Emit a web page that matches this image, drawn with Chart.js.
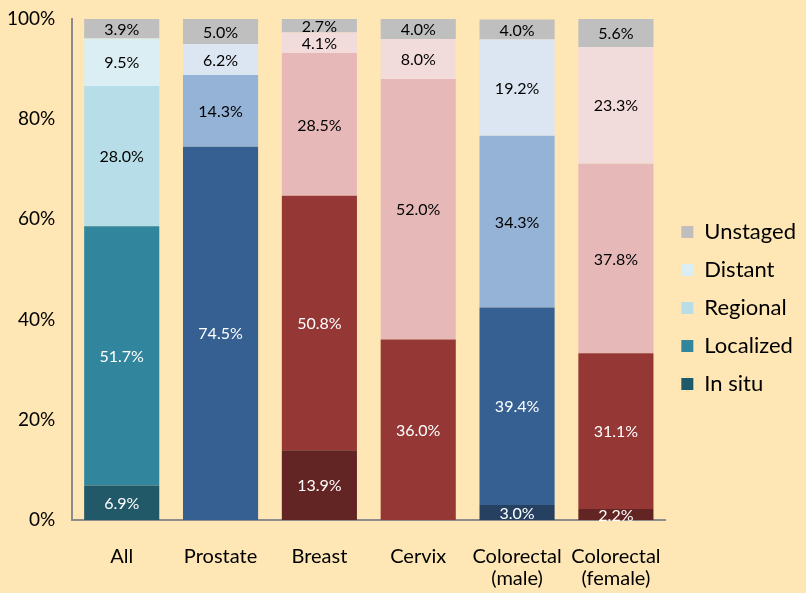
<!DOCTYPE html>
<html>
<head>
<meta charset="utf-8">
<script src="https://cdn.jsdelivr.net/npm/chart.js@4.4.0/dist/chart.umd.min.js"></script>
<style>
  html, body { margin: 0; padding: 0; background: #fee6b5; }
  #wrap { width: 806px; height: 593px; }
</style>
</head>
<body>
<div id="wrap"><canvas id="stageChart" width="806" height="593"></canvas></div>
<script>
// categories and stages
const categories = [['All'], ['Prostate'], ['Breast'], ['Cervix'], ['Colorectal', '(male)'], ['Colorectal', '(female)']];
const stages = ['In situ', 'Localized', 'Regional', 'Distant', 'Unstaged'];

// percent of cases by stage, one array per stage
const inSitu    = [6.9,  0,    13.9, 0,    3.0,  2.2];
const localized = [51.7, 74.5, 50.8, 36.0, 39.4, 31.1];
const regional  = [28.0, 14.3, 28.5, 52.0, 34.3, 37.8];
const distant   = [9.5,  6.2,  4.1,  8.0,  19.2, 23.3];
const unstaged  = [3.9,  5.0,  2.7,  4.0,  4.0,  5.6];

const yTicks = [0, 20, 40, 60, 80, 100];

// colour families: teal for All, blue for male sites, red for female sites
const teal = ['#215968', '#31859c', '#b7dee8', '#daeef3', '#bfbfbf'];
const blue = ['#254061', '#366092', '#95b3d7', '#dce6f2', '#bfbfbf'];
const red  = ['#632523', '#953735', '#e6b9b8', '#f2dcdb', '#bfbfbf'];
const familyOf = [teal, blue, red, red, blue, red];

const FONT = 'Lato, "Open Sans", sans-serif';

const seriesValues = [inSitu, localized, regional, distant, unstaged];

const datasets = stages.map((name, s) => ({
    label: name,
    data: seriesValues[s],
    backgroundColor: familyOf.map(f => f[s]),
    borderWidth: 0,
    barPercentage: 0.76,
    categoryPercentage: 1.0
}));

// draws the percentage inside each segment
const segmentLabels = {
    id: 'segmentLabels',
    afterDatasetsDraw(chart) {
        const ctx = chart.ctx;
        ctx.save();
        ctx.font = '16px ' + FONT;
        ctx.textAlign = 'center';
        ctx.textBaseline = 'middle';
        chart.data.datasets.forEach((ds, s) => {
            const meta = chart.getDatasetMeta(s);
            meta.data.forEach((bar, i) => {
                const v = ds.data[i];
                if (!v) return;
                ctx.fillStyle = s < 2 ? '#ffffff' : '#000000';
                ctx.fillText(v.toFixed(1) + '%', bar.x, (bar.y + bar.base) / 2 + 1);
            });
        });
        ctx.restore();
    }
};

new Chart(document.getElementById('stageChart').getContext('2d'), {
    type: 'bar',
    data: { labels: categories, datasets: datasets },
    plugins: [segmentLabels],
    options: {
        responsive: false,
        animation: false,
        layout: { padding: { top: 0, left: -10, right: 0, bottom: -23 } },
        plugins: {
            tooltip: { enabled: false },
            legend: {
                position: 'right',
                reverse: true,
                labels: {
                    color: '#000',
                    font: { family: FONT, size: 22 },
                    boxWidth: 12,
                    boxHeight: 12,
                    padding: 16,
                    generateLabels(chart) {
                        return chart.data.datasets.map((ds, s) => ({
                            text: ds.label,
                            fillStyle: teal[s],
                            strokeStyle: teal[s],
                            lineWidth: 0,
                            datasetIndex: s
                        }));
                    }
                }
            }
        },
        scales: {
            x: {
                stacked: true,
                grid: { display: false, drawTicks: false },
                border: { color: '#8c8c8c', width: 2 },
                ticks: { color: '#000', font: { family: FONT, size: 20, lineHeight: 1.1 }, padding: 26, maxRotation: 0 }
            },
            y: {
                stacked: true,
                min: 0,
                max: 100,
                afterBuildTicks(axis) {
                    axis.ticks = yTicks.map(v => ({ value: v }));
                },
                grid: { display: false, drawTicks: false },
                border: { color: '#8c8c8c', width: 2 },
                ticks: {
                    color: '#000',
                    // small lineHeight keeps the top label from reserving extra room above the plot
                    font: { family: FONT, size: 19, lineHeight: 0.2 },
                    padding: 17,
                    callback: v => v + '%'
                }
            }
        }
    }
});
</script>
</body>
</html>
